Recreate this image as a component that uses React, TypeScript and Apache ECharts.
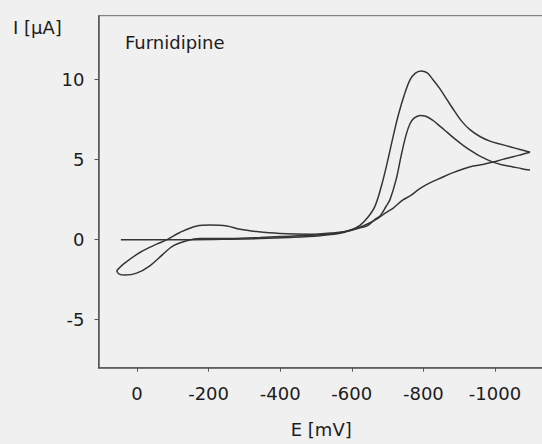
import React, { useEffect, useRef } from "react";
import * as echarts from "echarts";

// First cathodic scan (E in mV, I in µA)
const scan1E = [45, -36, -156, -260, -344, -427, -511, -567, -595, -623, -645, -665, -684, -701, -715, -729, -746, -763, -777, -793, -810, -827, -846, -866, -888, -908, -930, -958, -986, -1014, -1042, -1070, -1098];
const scan1I = [0, 0, 0, 0.03, 0.07, 0.14, 0.25, 0.4, 0.59, 0.9, 1.4, 2.1, 3.45, 5.0, 6.4, 7.7, 9.0, 10.0, 10.4, 10.55, 10.44, 10.0, 9.44, 8.75, 8.0, 7.38, 6.88, 6.45, 6.16, 5.98, 5.81, 5.64, 5.47];

// Reverse (anodic) scan
const revE = [-1098, -1075, -1051, -1022, -995, -966, -939, -911, -883, -849, -818, -790, -763, -743, -715, -697, -673, -651, -623, -595, -567, -511, -427, -344, -260, -176, -139, -101, -73, -36, 1, 33, 50, 57];
const revI = [5.47, 5.33, 5.18, 5.02, 4.85, 4.7, 4.6, 4.42, 4.19, 3.86, 3.55, 3.19, 2.74, 2.49, 1.96, 1.71, 1.34, 1.06, 0.78, 0.59, 0.44, 0.31, 0.22, 0.14, 0.08, 0.07, -0.07, -0.39, -0.9, -1.63, -2.09, -2.21, -2.15, -1.94];

// Second cathodic scan
const scan2E = [57, 38, -8, -55, -83, -120, -167, -204, -251, -288, -334, -399, -483, -553, -595, -623, -643, -665, -679, -696, -707, -724, -738, -752, -763, -774, -791, -807, -827, -846, -866, -888, -911, -936, -958, -994, -1022, -1050, -1075, -1098];
const scan2I = [-1.94, -1.53, -0.8, -0.28, -0.01, 0.45, 0.86, 0.92, 0.86, 0.65, 0.51, 0.39, 0.34, 0.44, 0.56, 0.75, 0.86, 1.28, 1.48, 2.09, 2.52, 3.77, 5.26, 6.57, 7.26, 7.6, 7.77, 7.72, 7.45, 7.1, 6.72, 6.3, 5.9, 5.52, 5.22, 4.85, 4.67, 4.55, 4.44, 4.35];

const xTicks = [0, -200, -400, -600, -800, -1000];
const yTicks = [-5, 0, 5, 10];

const xTitle = "E [mV]";
const yTitle = "I [μA]";
const chartLabel = "Furnidipine";

const zip = (xs: number[], ys: number[]) => xs.map((x, i) => [x, ys[i]]);

const FONT = "DejaVu Sans";
const TEXT = "#1c1c1c";
const AXIS = "#555";
const LINE = "#353535";

export default function App() {
  const ref = useRef<HTMLDivElement>(null);
  useEffect(() => {
    document.body.style.margin = "0";
    const chart = echarts.init(ref.current!, null, { renderer: "svg" });
    const lineSeries = (name: string, data: number[][]) => ({
      name,
      type: "line",
      data,
      showSymbol: false,
      smooth: 0.35,
      lineStyle: { color: LINE, width: 1.5 },
    });
    chart.setOption({
      animation: false,
      backgroundColor: "#f0f0f0",
      grid: {
        left: 98.5,
        right: -2,
        top: 15.7,
        bottom: 76.3,
        outerBoundsMode: "none",
        containLabel: false,
        show: true,
        borderColor: "#6a6a6a",
        borderWidth: 1,
      },
      xAxis: {
        type: "value",
        inverse: true,
        min: -1137,
        max: 107.5,
        name: xTitle,
        nameLocation: "middle",
        nameGap: 53,
        nameTextStyle: { fontFamily: FONT, fontSize: 18, color: TEXT },
        axisLine: { show: true, onZero: false, lineStyle: { color: AXIS, width: 1.5 } },
        axisTick: { show: true, length: 4, customValues: xTicks, lineStyle: { color: AXIS } },
        axisLabel: {
          customValues: xTicks,
          margin: 17,
          fontFamily: FONT,
          fontSize: 18,
          color: TEXT,
          formatter: (v: number) => String(v),
        },
        splitLine: { show: false },
      },
      yAxis: {
        type: "value",
        min: -8,
        max: 14,
        axisLine: { show: true, onZero: false, lineStyle: { color: AXIS, width: 1.5 } },
        axisTick: { show: true, length: 4, customValues: yTicks, lineStyle: { color: AXIS } },
        axisLabel: {
          customValues: yTicks,
          margin: 14,
          fontFamily: FONT,
          fontSize: 18,
          color: TEXT,
        },
        splitLine: { show: false },
      },
      graphic: [
        {
          type: "text",
          left: 13,
          top: 18,
          style: { text: yTitle, fontFamily: FONT, fontSize: 18, fill: TEXT },
        },
        {
          type: "text",
          left: 125,
          top: 33,
          style: { text: chartLabel, fontFamily: FONT, fontSize: 18, fill: TEXT },
        },
      ],
      series: [
        lineSeries("Scan 1", zip(scan1E, scan1I)),
        lineSeries("Reverse", zip(revE, revI)),
        lineSeries("Scan 2", zip(scan2E, scan2I)),
      ],
    });
    return () => chart.dispose();
  }, []);
  return (
    <div
      ref={ref}
      style={{ position: "fixed", left: 0, top: 0, width: 542, height: 444 }}
    />
  );
}
